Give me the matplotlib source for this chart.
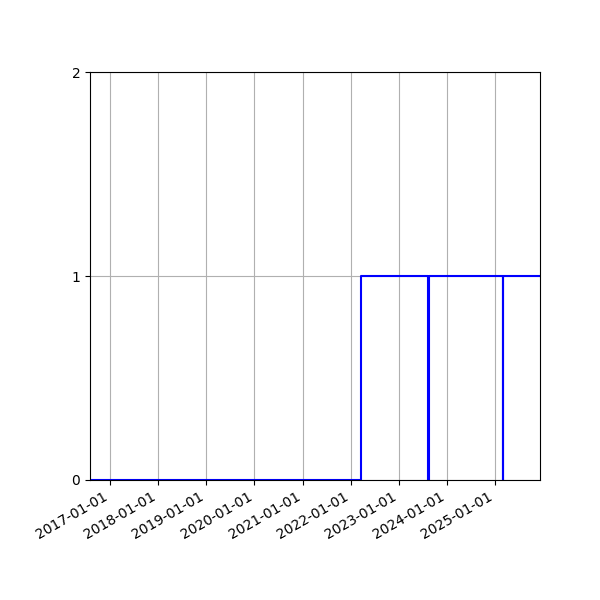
import matplotlib
matplotlib.use('Agg')
import matplotlib.pyplot as plt
import matplotlib.dates as mdates
import pandas as pd

# status changes over time (step, held until next change)
dates = ['2016-08-01 00:00', '2022-03-17 00:00', '2023-08-08 00:00', '2023-08-18 00:00',
         '2025-03-01 00:00', '2025-03-01 06:00', '2025-12-08 00:00']
status = [0, 1, 0, 1, 0, 1, 1]
y_ticks = [0, 1, 2]

x = pd.to_datetime(dates, format='%Y-%m-%d %H:%M')

fig, ax = plt.subplots(figsize=(6, 6), dpi=100)
ax.step(x, status, where='post', color='blue', linewidth=1.5)
ax.set_xlim(x[0], x[-1])
ax.set_ylim(0, 2)
ax.set_yticks(y_ticks)
ax.xaxis.set_major_locator(mdates.YearLocator())
ax.xaxis.set_major_formatter(mdates.DateFormatter('%Y-%m-%d'))
ax.grid(True)
fig.autofmt_xdate()
fig.subplots_adjust(left=0.15, right=0.9, top=0.88, bottom=0.2)
fig.savefig('out.png', dpi=100)
plt.close(fig)
